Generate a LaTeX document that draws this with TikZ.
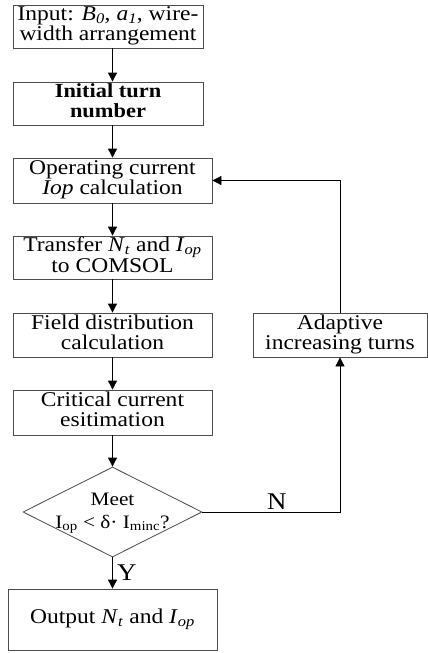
\documentclass[tikz,border=0pt]{standalone}
\usepackage{fontspec}
\setmainfont{Liberation Serif}[FakeStretch=1.12]
\usetikzlibrary{shapes.geometric,arrows.meta}

\newcommand{\lsub}[1]{\textsubscript{#1}}

\begin{document}
\begin{tikzpicture}[x=1pt,y=-1pt,
  box/.style={draw=black!70,line width=.8pt,inner sep=0pt,minimum width=199pt,minimum height=44pt,font=\fontsize{21}{20}\selectfont},
  flow/.style={line width=.8pt,-{Triangle[length=9pt,width=9pt]}}]
\useasboundingbox (0,0) rectangle (428,653);
%\draw (0,0) grid[step=50] (428,653);

\node [box,minimum width=190pt,minimum height=43pt] (input) at (108,26.5) {\begin{tabular}{@{}c@{}}Input: \textit{B}\lsub{\textit{0}}, \textit{a}\lsub{\textit{1}}, wire-\\width arrangement\end{tabular}};
\node [box,minimum width=190pt,minimum height=43pt,font=\fontsize{20}{20}\selectfont\bfseries] (init) at (108,103.5) {\begin{tabular}{@{}c@{}}Initial turn\\number\end{tabular}};
\node [box,minimum height=45pt] (oper) at (112.5,180.5) {\begin{tabular}{@{}c@{}}Operating current\\\textit{Iop} calculation\end{tabular}};
\node [box,minimum height=43pt] (transfer) at (112.5,257.5) {\begin{tabular}{@{}c@{}}Transfer \textit{N}\lsub{\textit{t}} and \textit{I}\lsub{\textit{op}}\\to COMSOL\end{tabular}};
\node [box] (field) at (112.5,335) {\begin{tabular}{@{}c@{}}Field distribution\\calculation\end{tabular}};
\node [box,minimum height=45pt] (critical) at (112.5,412.5) {\begin{tabular}{@{}c@{}}Critical current\\esitimation\end{tabular}};

\node [diamond,draw=black!70,line width=.8pt,inner sep=0pt,aspect=2,minimum width=179pt,minimum height=90pt] (meet) at (112.5,512) {};
\node [font=\fontsize{19}{23}\selectfont] (meettext) at (meet) {\begin{tabular}{@{}c@{}}Meet\\I\lsub{op} < δ· I\lsub{minc}?\end{tabular}};

\node [box,minimum width=209pt,minimum height=61pt] (output) at (112.5,619.5) {Output \textit{N}\lsub{\textit{t}} and \textit{I}\lsub{\textit{op}}};
\node [box,minimum width=174pt] (adapt) at (340,335) {\begin{tabular}{@{}c@{}}Adaptive\\increasing turns\end{tabular}};

\draw [flow] (input.south -| oper) -- (init.north -| oper);
\draw [flow] (init.south -| oper) -- (oper);
\draw [flow] (oper) -- (transfer);
\draw [flow] (transfer) -- (field);
\draw [flow] (field) -- (critical);
\draw [flow] (critical) -- (meet);
\draw [flow] (meet) -- (output) node [pos=.5,right=1pt,font=\fontsize{24}{24}\selectfont] (yes) {Y};
\draw [flow] (meet.east) -| (adapt.south) node [pos=.27,above=-1pt,font=\fontsize{24}{24}\selectfont] (no) {N};
\draw [flow] (adapt.north) |- (oper.east);
\end{tikzpicture}
\end{document}
